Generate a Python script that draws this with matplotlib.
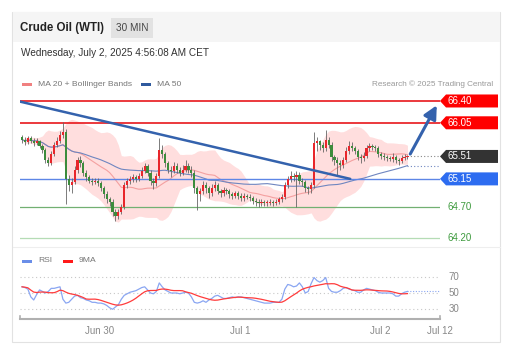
import matplotlib.pyplot as plt
import matplotlib.patches as mpatches
import matplotlib.transforms as mtransforms
import numpy as np
import pandas as pd

plt.rcParams['font.family'] = ['Liberation Sans', 'DejaVu Sans']

# 30-minute candles
closes = [65.78, 65.74, 65.80, 65.76, 65.72, 65.75, 65.68, 65.62, 65.45, 65.40,
          65.55, 65.70, 65.75, 65.85, 65.90, 65.15, 65.05, 65.10, 65.30, 65.45,
          65.40, 65.25, 65.18, 65.12, 65.10, 65.12, 65.08, 65.00, 64.90, 64.82,
          64.78, 64.62, 64.55, 64.62, 64.70, 65.05, 65.12, 65.15, 65.18, 65.15,
          65.20, 65.28, 65.35, 65.25, 65.12, 65.08, 65.20, 65.62, 65.55, 65.40,
          65.30, 65.28, 65.35, 65.30, 65.25, 65.30, 65.35, 65.30, 65.25, 65.00,
          64.90, 64.95, 65.05, 65.00, 64.92, 65.00, 65.05, 64.95, 64.92, 64.97,
          64.95, 64.90, 64.88, 64.92, 64.88, 64.85, 64.87, 64.86, 64.84, 64.80,
          64.78, 64.76, 64.78, 64.76, 64.77, 64.78, 64.77, 64.78, 64.82, 64.86,
          65.05, 65.15, 65.20, 65.18, 65.22, 65.12, 65.10, 65.00, 64.98, 65.05,
          65.72, 65.75, 65.70, 65.65, 65.78, 65.70, 65.50, 65.45, 65.40, 65.38,
          65.45, 65.60, 65.68, 65.65, 65.60, 65.50, 65.48, 65.52, 65.65, 65.67,
          65.66, 65.65, 65.55, 65.52, 65.50, 65.48, 65.47, 65.50, 65.45, 65.43,
          65.48, 65.50, 65.51]
first_open = 65.82
highs = [65.86, 65.83, 65.84, 65.84, 65.80, 65.80, 65.78, 65.71, 65.65, 65.50,
         65.60, 65.74, 65.82, 65.92, 66.06, 65.95, 65.22, 65.16, 65.35, 65.50,
         65.52, 65.44, 65.29, 65.22, 65.16, 65.17, 65.16, 65.11, 65.04, 64.95,
         64.86, 64.82, 64.66, 64.67, 64.75, 65.10, 65.17, 65.20, 65.23, 65.22,
         65.25, 65.34, 65.40, 65.39, 65.29, 65.17, 65.25, 65.80, 65.70, 65.58,
         65.44, 65.36, 65.42, 65.40, 65.34, 65.38, 65.45, 65.40, 65.35, 65.30,
         65.04, 65.00, 65.12, 65.10, 65.04, 65.06, 65.12, 65.08, 64.99, 65.02,
         65.00, 64.99, 64.94, 64.96, 64.95, 64.93, 64.92, 64.91, 64.90, 64.88,
         64.84, 64.82, 64.82, 64.81, 64.81, 64.82, 64.81, 64.82, 64.86, 64.90,
         65.10, 65.20, 65.28, 65.25, 65.28, 65.26, 65.16, 65.14, 65.04, 65.10,
         65.90, 65.82, 65.78, 65.74, 65.93, 65.82, 65.74, 65.54, 65.50, 65.45,
         65.50, 65.66, 65.76, 65.74, 65.68, 65.63, 65.55, 65.58, 65.70, 65.72,
         65.71, 65.70, 65.68, 65.58, 65.56, 65.54, 65.52, 65.56, 65.53, 65.49,
         65.53, 65.55, 65.54]
lows = [65.72, 65.70, 65.71, 65.72, 65.68, 65.69, 65.64, 65.57, 65.40, 65.35,
        65.37, 65.52, 65.66, 65.72, 65.80, 64.75, 64.95, 64.92, 65.06, 65.25,
        65.34, 65.20, 65.12, 65.08, 65.05, 65.06, 65.03, 64.95, 64.85, 64.77,
        64.72, 64.56, 64.48, 64.50, 64.58, 64.66, 65.00, 65.07, 65.10, 65.10,
        65.11, 65.16, 65.24, 65.20, 65.05, 64.98, 65.04, 65.16, 65.48, 65.34,
        65.24, 65.18, 65.24, 65.25, 65.20, 65.21, 65.26, 65.25, 65.18, 64.92,
        64.65, 64.80, 64.90, 64.92, 64.85, 64.88, 64.96, 64.90, 64.86, 64.88,
        64.90, 64.85, 64.82, 64.84, 64.83, 64.80, 64.80, 64.82, 64.79, 64.75,
        64.72, 64.70, 64.72, 64.71, 64.72, 64.73, 64.72, 64.73, 64.74, 64.78,
        64.82, 65.00, 65.10, 65.12, 64.70, 65.06, 65.04, 64.94, 64.90, 64.93,
        65.00, 65.60, 65.62, 65.58, 65.60, 65.64, 65.44, 65.38, 65.22, 65.30,
        65.33, 65.42, 65.55, 65.60, 65.55, 65.45, 65.40, 65.44, 65.48, 65.60,
        65.61, 65.60, 65.50, 65.47, 65.46, 65.44, 65.43, 65.42, 65.40, 65.38,
        65.40, 65.45, 65.47]
# RSI per bar
rsi_vals = [58, 57, 55, 45, 41, 48, 54, 52, 50, 52,
            56, 56, 57, 58, 42, 37, 38, 42, 46, 47,
            44, 43, 41, 40, 38, 38, 37, 37, 36, 34,
            31, 29, 32, 35, 42, 47, 49, 51, 52, 53,
            55, 57, 58, 54, 50, 49, 52, 63, 58, 54,
            52, 50, 50, 50, 49, 50, 51, 50, 45, 38,
            37, 38, 40, 38, 41, 43, 46, 47, 45, 43,
            43, 44, 45, 44, 45, 45, 44, 43, 42, 41,
            40, 39, 38, 37, 37, 37, 38, 38, 38, 42,
            55, 61, 60, 58, 59, 63, 58, 50, 52, 62,
            70, 66, 64, 66, 70, 56, 52, 51, 51, 53,
            56, 57, 55, 54, 53, 51, 51, 54, 56, 55,
            54, 53, 51, 50, 50, 50, 50, 49, 46, 46,
            49, 51, 52]

levels_red = [66.40, 66.05]
last_price = 65.51
pivot = 65.15
supports = [64.70, 64.20]
trend_start = (-0.7, 66.39)
trend_end = (112.4, 65.15)
arrow_target = (142.5, 66.37)
day_ticks = [26.7, 74.7, 122.6, 143.1]
day_labels = ['Jun 30', 'Jul 1', 'Jul 2', 'Jul 12']

W, H = 518, 352
fig = plt.figure(figsize=(W / 100, H / 100), dpi=100)


def fx(px):
    return px / W


def fy(py):
    return 1 - py / H


# card + header (behind the axes)
fig.patches.append(mpatches.Rectangle((fx(12), fy(342)), fx(488), (342 - 12) / H,
                                      transform=fig.transFigure, facecolor='white',
                                      edgecolor='#e2e2e2', lw=0.8, zorder=-3))
fig.patches.append(mpatches.Rectangle((fx(12.5), fy(42)), fx(487), 30 / H,
                                      transform=fig.transFigure, facecolor='#f5f5f5',
                                      edgecolor='none', zorder=-2))
fig.patches.append(mpatches.Rectangle((fx(111), fy(38)), fx(42), 20 / H,
                                      transform=fig.transFigure, facecolor='#e2e2e2',
                                      edgecolor='none', zorder=-1))
fig.text(fx(20), fy(28), 'Crude Oil (WTI)', fontsize=8.3, fontweight='bold', color='#222', va='center')
fig.text(fx(132), fy(28), '30 MIN', fontsize=7.2, color='#444', va='center', ha='center')
fig.text(fx(21), fy(53), 'Wednesday, July 2, 2025 4:56:08 AM CET', fontsize=7.2, color='#333', va='center')

# legends
fig.patches.append(mpatches.Rectangle((fx(22), fy(85.5)), fx(10), 3 / H, transform=fig.transFigure,
                                      facecolor='#f08080', edgecolor='none'))
fig.text(fx(38), fy(84), 'MA 20 + Bollinger Bands', fontsize=6.1, color='#777', va='center')
fig.patches.append(mpatches.Rectangle((fx(141), fy(85.5)), fx(10), 3 / H, transform=fig.transFigure,
                                      facecolor='#2f5a9e', edgecolor='none'))
fig.text(fx(157), fy(84), 'MA 50', fontsize=6.1, color='#777', va='center')
fig.text(fx(493), fy(84), 'Research \u00a9 2025 Trading Central', fontsize=5.9, color='#999',
         va='center', ha='right')

fig.patches.append(mpatches.Rectangle((fx(22), fy(262.5)), fx(10), 3 / H, transform=fig.transFigure,
                                      facecolor='#6a8ee8', edgecolor='none'))
fig.text(fx(38), fy(261), 'RSI', fontsize=6.1, color='#777', va='center')
fig.patches.append(mpatches.Rectangle((fx(63), fy(262.5)), fx(10), 3 / H, transform=fig.transFigure,
                                      facecolor='#ff1a1a', edgecolor='none'))
fig.text(fx(79), fy(261), '9MA', fontsize=6.1, color='#777', va='center')

# separator between panels
fig.add_artist(plt.Line2D([fx(12.5), fx(499.5)], [fy(247), fy(247)], color='#eeeeee', lw=0.8))

# ---- main price panel ----
ax = fig.add_axes([fx(20), fy(245), fx(420), 150 / H])
ax.set_xlim(-0.7, 143.15)
ax.set_ylim(64.089, 66.496)
ax.axis('off')

x = np.arange(len(closes))
s = pd.Series(closes)
opens = [first_open] + closes[:-1]

ma20 = s.rolling(20, min_periods=1).mean()
sd20 = s.rolling(20, min_periods=1).std(ddof=0)
ax.fill_between(x, ma20 - 2 * sd20, ma20 + 2 * sd20, color='#ffd6d6', alpha=0.8, lw=0, zorder=1)
ax.plot(x, ma20, color='#f4a0a0', lw=0.8, zorder=2)
ma50 = s.rolling(50, min_periods=1).mean()
ax.plot(x, ma50, color='#6f86c0', lw=0.8, zorder=2)

# horizontal levels
for lv in levels_red:
    ax.axhline(lv, color='#e8161b', lw=1.2, zorder=2)
ax.axhline(pivot, color='#5d86e6', lw=1.0, zorder=2)
ax.axhline(supports[0], color='#72b072', lw=0.9, zorder=2)
ax.axhline(supports[1], color='#b5dcb5', lw=0.9, zorder=2)
ax.plot([x[-1], 143.15], [last_price, last_price], color='#888', lw=0.8, ls=(0, (1, 2)), zorder=2)
ax.plot([x[-1], 143.15], [ma50.iloc[-1], ma50.iloc[-1]], color='#6f86c0', lw=0.8, ls=(0, (1, 2)), zorder=2)

# candles: red rising, green falling
for i in range(len(closes)):
    o, c = opens[i], closes[i]
    col = '#e8262b' if c >= o else '#3c8c3c'
    ax.vlines(i, lows[i], highs[i], color='#666666', lw=0.6, zorder=3)
    ax.bar(i, max(abs(c - o), 0.012), bottom=min(o, c), width=0.75, color=col, lw=0, zorder=4)

# trend line and arrow
ax.plot([trend_start[0], trend_end[0]], [trend_start[1], trend_end[1]], color='#3462ad', lw=1.8,
        zorder=5, solid_capstyle='round')
ax.annotate('', xy=arrow_target, xytext=(x[-1] + 0.5, last_price),
            arrowprops=dict(arrowstyle='-|>,head_length=0.8,head_width=0.4', color='#3462ad', lw=2.2),
            zorder=6)

# right price tags
trans = mtransforms.blended_transform_factory(fig.transFigure, ax.transData)
hh = 6.5 / 62.3


def tag(price, color):
    pts = [(fx(440), price), (fx(446), price + hh), (fx(498), price + hh),
           (fx(498), price - hh), (fx(446), price - hh)]
    fig.patches.append(mpatches.Polygon(pts, closed=True, transform=trans, facecolor=color,
                                        edgecolor='none', clip_on=False))
    fig.text(fx(448), price, '%.2f' % price, transform=trans, fontsize=7, color='white', va='center')


for lv in levels_red:
    tag(lv, '#ff0000')
tag(last_price, '#333333')
tag(pivot, '#2d6cf0')
for lv in supports:
    fig.text(fx(447), lv, '%.2f' % lv, transform=trans, fontsize=7, color='#3d9a3d', va='center')

# ---- RSI panel ----
ax2 = fig.add_axes([fx(20), fy(319), fx(420), 54 / H])
ax2.set_xlim(-0.7, 143.15)
ax2.set_ylim(16.5, 86.1)
for sp in ['top', 'right', 'left']:
    ax2.spines[sp].set_visible(False)
ax2.spines['bottom'].set_color('#b0b0b0')
ax2.spines['bottom'].set_linewidth(1.5)
ax2.set_yticks([])
ax2.set_xticks(day_ticks)
ax2.set_xticklabels(day_labels, fontsize=7, color='#888')
ax2.tick_params(axis='x', length=0, pad=5)
ax2.patch.set_alpha(0)
for xe in [-0.7, 143.15]:
    ax2.plot([xe, xe], [16.5, 20.5], color='#b0b0b0', lw=1.2, clip_on=False)

rsi = pd.Series(rsi_vals, dtype=float)
rsi9 = rsi.rolling(9, min_periods=1).mean()

for lv in [70, 50, 30]:
    ax2.axhline(lv, color='#c8c8c8', lw=0.8, ls=(0, (1, 2.5)))
    ax2.text(1.02, lv, str(lv), transform=mtransforms.blended_transform_factory(ax2.transAxes, ax2.transData),
             fontsize=7, color='#888', va='center')
ax2.plot(x, rsi, color='#8aa6f2', lw=0.9)
ax2.plot(x, rsi9, color='#ff3b3b', lw=0.9)
ax2.plot([x[-1], 143.15], [rsi.iloc[-1], rsi.iloc[-1]], color='#8aa6f2', lw=0.8, ls=(0, (1, 1.5)))

fig.savefig('out.png', dpi=100)
